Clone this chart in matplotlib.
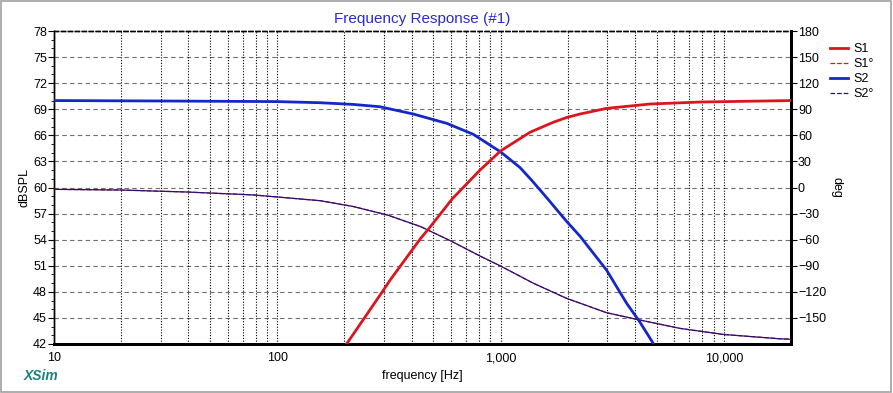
import numpy as np
import matplotlib.pyplot as plt
from matplotlib.ticker import FixedLocator, MultipleLocator, FuncFormatter
from matplotlib.patches import Rectangle

plt.rcParams['font.family'] = ['Liberation Sans', 'DejaVu Sans']

# S2 (low-pass) magnitude, dBSPL
s2_freq = [10, 30, 100, 156, 220, 288, 407, 574, 755, 1000, 1222, 1376, 1607,
           1977, 2270, 2985, 3672, 4200, 4850]
s2_db = [70.0, 69.95, 69.88, 69.75, 69.55, 69.29, 68.45, 67.38, 66.12, 64.1, 62.3,
         60.86, 58.85, 56.1, 54.4, 50.5, 46.68, 44.56, 42.0]

# S1 (high-pass) magnitude, dBSPL
s1_freq = [205, 299, 322, 439, 475, 608, 809, 1000, 1355, 1722, 1977, 2270, 2985,
           4668, 7810, 20000]
s1_db = [42.05, 48.2, 49.44, 54.16, 55.2, 58.7, 62.0, 64.2, 66.35, 67.5, 68.05,
         68.45, 69.1, 69.6, 69.83, 70.0]

# Phase (S1° / S2° overlap), degrees
ph_freq = [10, 19.9, 39.5, 78.6, 156, 220, 311, 439, 608, 809, 1000, 1400, 1977,
           2985, 4063, 6350, 9950, 17800, 20000]
ph_deg = [-2.1, -2.9, -5.2, -8.6, -15.2, -22, -31.6, -45, -62.3, -78.8, -90.3,
          -110, -127.5, -144, -151.6, -162, -169, -174, -174.5]

fig = plt.figure(figsize=(8.93, 3.93), dpi=100)
ax = fig.add_axes([54 / 893, 1 - 344 / 393, 737 / 893, 313 / 393])
ax2 = ax.twinx()

red = '#dc141e'
blue = '#1428c8'
navy = '#2a107a'

ax.set_xscale('log')
ax.set_xlim(10, 20000)
ax.set_ylim(42, 78)
ax2.set_ylim(-180, 180)

ax2.plot(ph_freq, ph_deg, color=red, lw=0.9, ls='--', zorder=3)
ax2.plot(ph_freq, ph_deg, color=navy, lw=0.9, zorder=3)
ax2.plot(s2_freq, np.array(s2_db) * 10 - 600, color=blue, lw=2.0, zorder=4)
ax2.plot(s1_freq, np.array(s1_db) * 10 - 600, color=red, lw=2.0, zorder=4)

# grid
ax.set_yticks(np.arange(42, 79, 3))
ax.yaxis.set_minor_locator(MultipleLocator(1))
for y in np.arange(45, 78, 3):
    ax.axhline(y, color='#707070', lw=0.8, ls=(0, (4, 3)), zorder=1)
vx = [m * 10 ** d for d in range(1, 5) for m in range(1, 10) if 10 < m * 10 ** d < 20000]
for x in vx:
    ax.axvline(x, color='black', lw=0.8, ls=(0, (1, 1.5)), zorder=1)

ax.xaxis.set_major_locator(FixedLocator([10, 100, 1000, 10000]))
ax.xaxis.set_minor_locator(FixedLocator([]))
ax.xaxis.set_major_formatter(FuncFormatter(lambda v, p: f'{int(v):,}'))
ax.tick_params(axis='x', length=0, labelsize=9, pad=6)
ax.tick_params(axis='y', which='major', length=4, labelsize=9, pad=1)
ax.tick_params(axis='y', which='minor', length=2)

ax2.set_yticks(np.arange(-150, 181, 30))
ax2.tick_params(axis='y', length=4, labelsize=9, pad=1)

for a in (ax, ax2):
    a.spines['top'].set_linestyle((0, (3, 2)))
    a.spines['top'].set_linewidth(1.0)
    a.spines['left'].set_linewidth(1.0)
    a.spines['bottom'].set_linewidth(2.0)
    a.spines['right'].set_linewidth(2.0)

ax.set_ylabel('dBSPL', fontsize=9, labelpad=2)
ax2.set_ylabel('deg', fontsize=9, rotation=-90, labelpad=12)
ax.set_xlabel('frequency [Hz]', fontsize=9, labelpad=4)
ax.set_title('Frequency Response (#1)', color='#2a2ad2', fontsize=11, pad=6)

# legend
leg_items = [('S1', red, '-', 2.0), ('S1°', red, '--', 0.9),
             ('S2', blue, '-', 2.0), ('S2°', navy, '--', 0.9)]
handles = [plt.Line2D([], [], color=c, ls=s, lw=w) for _, c, s, w in leg_items]
fig.legend(handles, [n for n, *_ in leg_items], loc='upper left',
           bbox_to_anchor=(825 / 893, 1 - 38 / 393), frameon=False, fontsize=9,
           handlelength=1.4, handletextpad=0.5, labelspacing=0.25, borderaxespad=0)

fig.text(24 / 893, 1 - 376 / 393, 'XSim', color='#1e8080', fontsize=10,
         fontweight='bold', style='italic', va='center')
fig.patches.append(Rectangle((0.001, 0.003), 0.997, 0.994, transform=fig.transFigure,
                             fill=False, ec='#a0a0a0', lw=1.2))

fig.savefig('out.png', dpi=100)
